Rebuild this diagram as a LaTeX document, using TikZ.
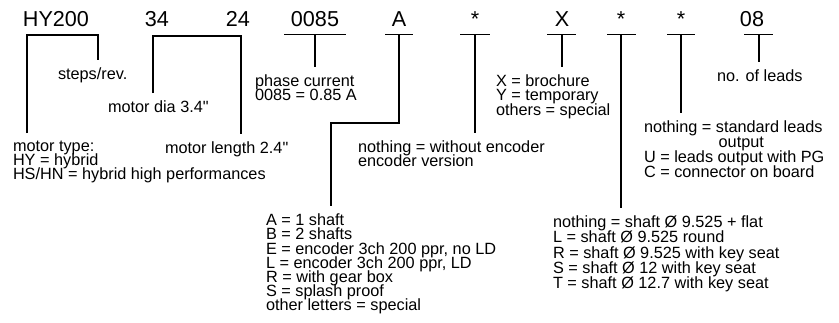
\documentclass[tikz,border=0pt]{standalone}
\usepackage{fontspec}
\setmainfont{Liberation Sans}[Ligatures=TeXOff]
\usetikzlibrary{calc}
\newcommand\tightlines{\lineskiplimit=-20pt\relax}
\tikzset{
  code/.style={font=\fontsize{16.2}{18}\selectfont, inner sep=0pt, anchor=base},
  desc/.style={font=\fontsize{12.2}{10.65}\selectfont\tightlines, align=left, inner sep=0pt, outer xsep=0pt, outer ysep=6pt, anchor=north west},
  wire/.style={line width=1.35pt}
}
\begin{document}
\begin{tikzpicture}[x=0.75pt,y=-0.75pt]
\useasboundingbox (0,0) rectangle (839,322);
% ordering code
\node[code] (chy)   at (56,26)  {HY200};
\node[code] (c34)   at (157,26) {34};
\node[code] (c24)   at (238,26) {24};
\node[code] (c0085) at (315,26) {0085};
\node[code] (ca)    at (399,26) {A};
\node[code] (cst1)  at (475,26) {*};
\node[code] (cx)    at (562,26) {X};
\node[code] (cst2)  at (621,26) {*};
\node[code] (cst3)  at (681,26) {*};
\node[code] (c08)   at (752,26) {08};
\coordinate (ul) at (0,34.5);
\coordinate (s08) at (759,0);
% meanings
\node[desc] (steps) at (58,60)  {steps/rev.};
\node[desc] (dia)   at (108,93) {motor dia 3.4"};
\node[desc] (type)  at (13,133) {motor type:\\HY = hybrid\\HS/HN = hybrid high performances};
\node[desc] (len)   at (165,134) {motor length 2.4"};
\node[desc] (phase) at (255,67) {phase current\\0085 = 0.85 A};
\node[desc] (enc)   at (358,133) {nothing = without encoder\\encoder version};
\node[desc] (shaftA) at (266,206) {A = 1 shaft\\B = 2 shafts\\E = encoder 3ch 200 ppr, no LD\\L = encoder 3ch 200 ppr, LD\\R = with gear box\\S = splash proof\\other letters = special};
\node[desc] (xlist) at (496,67) {X = brochure\\Y = temporary\\others = special};
\node[desc] (leads) at (717,62) {no. of leads};
\node[desc, font=\fontsize{12.2}{11.25}\selectfont\tightlines] (out) at (644,113) {nothing = standard leads\\\hspace*{56pt}output\\U = leads output with PG\\C = connector on board};
\node[desc, font=\fontsize{12.2}{11.4}\selectfont\tightlines] (shaft) at (553,208) {nothing = shaft Ø 9.525 + flat\\L = shaft Ø 9.525 round\\R = shaft Ø 9.525 with key seat\\S = shaft Ø 12 with key seat\\T = shaft Ø 12.7 with key seat};
% brackets
\coordinate (l1) at (27,35);
\coordinate (r1) at (98,35);
\coordinate (l2) at (153,36);
\coordinate (r2) at (241,36);
\draw[wire] (type.north -| l1) -- (l1) -- (r1) -- (steps.north -| r1);
\draw[wire] (dia.north -| l2) -- (l2) -- (r2) -- (len.north -| r2);
% underlines and stems
\draw[wire] (c0085 |- ul) ++(-31,0) -- ++(62,0);
\draw[wire] (c0085 |- ul) -- (c0085 |- phase.north);
\coordinate (bendA) at (331,123);
\draw[wire] (ca |- ul) ++(-14,0) -- ++(28,0);
\draw[wire] (ca |- ul) -- (ca |- bendA) -- (bendA) -- (shaftA.north -| bendA);
\draw[wire] (cst1 |- ul) ++(-15,0) -- ++(30,0);
\draw[wire] (cst1 |- ul) -- (cst1 |- enc.north);
\draw[wire] (cx |- ul) ++(-15,0) -- ++(29,0);
\draw[wire] (cx |- ul) -- (cx |- xlist.north);
\draw[wire] (cst2 |- ul) ++(-14,0) -- ++(29,0);
\draw[wire] (cst2 |- ul) -- (cst2 |- shaft.north);
\draw[wire] (cst3 |- ul) ++(-14,0) -- ++(28,0);
\draw[wire] (cst3 |- ul) -- (cst3 |- out.north);
\draw[wire] (s08 |- ul) ++(-15,0) -- ++(29,0);
\draw[wire] (s08 |- ul) -- (s08 |- leads.north);
\end{tikzpicture}
\end{document}
